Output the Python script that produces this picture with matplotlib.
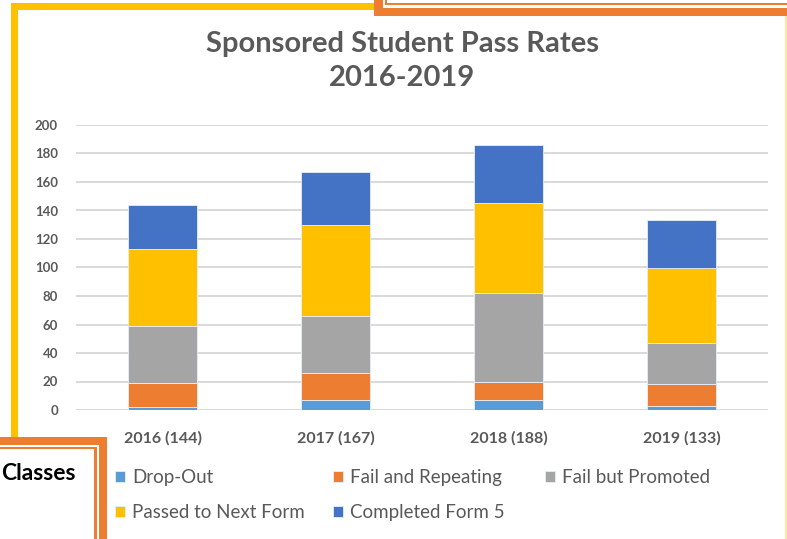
import numpy as np
import matplotlib.pyplot as plt
from matplotlib.patches import Rectangle

# data
years = ['2016 (144)', '2017 (167)', '2018 (188)', '2019 (133)']
drop_out = [2, 7, 7, 3]
fail_repeat = [17, 19, 13, 15]
fail_promoted = [40, 40, 62, 29]
passed = [54, 64, 63, 53]
completed = [31, 37, 41, 33]

series = [
    ('Drop-Out', drop_out, '#5B9BD5'),
    ('Fail and Repeating', fail_repeat, '#ED7D31'),
    ('Fail but Promoted', fail_promoted, '#A5A5A5'),
    ('Passed to Next Form', passed, '#FFC000'),
    ('Completed Form 5', completed, '#4472C4'),
]

W, H = 787, 539
plt.rcParams['font.family'] = ['Lato', 'DejaVu Sans']
grey = '#595959'

fig = plt.figure(figsize=(W / 100, H / 100), dpi=100)


def fx(px):
    return px / W


def fy(py):
    return 1 - py / H


def box(x0, y0, x1, y1, color, z):
    # rectangle given in pixel coords (top-down)
    fig.patches.append(Rectangle((fx(x0), fy(y1)), fx(x1) - fx(x0), fy(y0) - fy(y1),
                                 transform=fig.transFigure, color=color, lw=0, zorder=z))


ax = fig.add_axes([fx(76), fy(410), fx(768) - fx(76), fy(125) - fy(410)])

x = np.arange(len(years))
bottom = np.zeros(len(years))
handles = {}
for name, vals, col in series:
    b = ax.bar(x, vals, 0.4, bottom=bottom, color=col, edgecolor='#E8EEF8',
               linewidth=0.6, label=name, zorder=3)
    handles[name] = b
    bottom += np.array(vals)

ax.set_xlim(-0.5, 3.5)
ax.set_ylim(0, 200)
ax.set_yticks(range(0, 201, 20))
ax.yaxis.grid(True, color='#D9D9D9', linewidth=1.4, zorder=0)
ax.set_axisbelow(True)
for s in ax.spines.values():
    s.set_visible(False)
ax.set_xticks(x)
ax.set_xticklabels(years)
ax.tick_params(axis='both', length=0, colors=grey)
ax.tick_params(axis='y', pad=13, labelsize=9.5)
ax.tick_params(axis='x', pad=15, labelsize=11.5)
for lab in ax.get_xticklabels() + ax.get_yticklabels():
    lab.set_fontweight('bold')

fig.text(fx(402), fy(61), 'Sponsored Student Pass Rates\n2016-2019', ha='center', va='center',
         fontsize=21, fontweight='bold', color=grey, linespacing=1.4)

# legend in three columns like the original
cols = [(115, ['Drop-Out', 'Passed to Next Form']),
        (333, ['Fail and Repeating', 'Completed Form 5']),
        (545, ['Fail but Promoted'])]
for px, names in cols:
    leg = fig.legend([handles[n] for n in names], names, loc='upper left',
                     bbox_to_anchor=(fx(px), fy(469)), frameon=False, fontsize=13.5,
                     handlelength=0.55, handleheight=0.55, handletextpad=0.35,
                     labelspacing=0.95, borderpad=0, borderaxespad=0)
    for t in leg.get_texts():
        t.set_color(grey)

# yellow frame
box(11, 3, 374, 10, '#FFC000', 0)
box(11, 3, 18, 437, '#FFC000', 0)
box(784.5, 10, 787, 539, '#FFE699', 0)

# orange box at top right
box(374, -5, 800, 15.7, '#ED7D31', 1)
box(383, -5, 800, 8.3, 'white', 1)
box(385, -5, 800, 4.7, '#ED7D31', 1)
box(387.3, -5, 800, 3, 'white', 1)

# orange box at bottom left
box(-5, 436.7, 106.7, 545, '#ED7D31', 1)
box(-5, 445, 99, 545, 'white', 1)
box(-5, 447, 96.7, 545, '#ED7D31', 1)
box(-5, 449.3, 94.3, 545, 'white', 1)
fig.text(fx(1.5), fy(474), 'Classes', ha='left', va='center', fontsize=16.5,
         fontweight='bold', color='black', zorder=2)

fig.savefig('out.png', dpi=100)
